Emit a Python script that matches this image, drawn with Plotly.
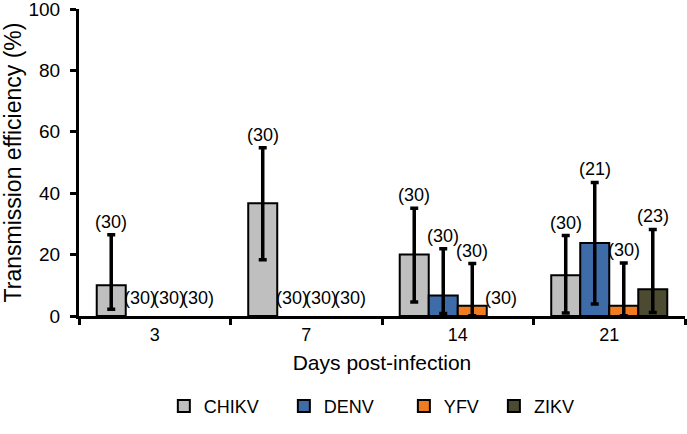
import plotly.graph_objects as go

days = ["3", "7", "14", "21"]
viruses = ["CHIKV", "DENV", "YFV", "ZIKV"]
colors = ["#BFBFBF", "#3D6CA8", "#F07C1F", "#4D4A32"]
legend_pad = [4, 5, 2, 0]

chikv = [10.0, 36.7, 20.0, 13.3]
chikv_hi = [26.5, 54.8, 35.1, 26.2]
chikv_lo = [2.2, 18.3, 4.6, 1.0]
chikv_n = [30, 30, 30, 30]

denv = [0.0, 0.0, 6.7, 23.8]
denv_hi = [0.0, 0.0, 21.9, 43.5]
denv_lo = [0.0, 0.0, 0.8, 3.9]
denv_n = [30, 30, 30, 21]

yfv = [0.0, 0.0, 3.3, 3.3]
yfv_hi = [0.0, 0.0, 17.1, 17.3]
yfv_lo = [0.0, 0.0, 0.1, 0.1]
yfv_n = [30, 30, 30, 30]

zikv = [0.0, 0.0, 0.0, 8.7]
zikv_hi = [0.0, 0.0, 0.0, 28.2]
zikv_lo = [0.0, 0.0, 0.0, 1.1]
zikv_n = [30, 30, 30, 23]

series = [
    (chikv, chikv_hi, chikv_lo, chikv_n),
    (denv, denv_hi, denv_lo, denv_n),
    (yfv, yfv_hi, yfv_lo, yfv_n),
    (zikv, zikv_hi, zikv_lo, zikv_n),
]

FONT = "Liberation Sans, Arial, sans-serif"
NBSP = "\u00a0"
bargap = 0.234
fig = go.Figure()
annotations = []
slot = (1 - bargap) / len(viruses)
for i, (name, color, pad, (vals, hi, lo, ns)) in enumerate(zip(viruses, colors, legend_pad, series)):
    y = [v if v > 0 else None for v in vals]
    fig.add_trace(go.Bar(
        x=days, y=y, name=name + NBSP * pad,
        marker=dict(color=color, line=dict(color="black", width=2)),
        error_y=dict(type="data", symmetric=False,
                     array=[(h - v) if v > 0 else None for h, v in zip(hi, vals)],
                     arrayminus=[(v - l) if v > 0 else None for v, l in zip(vals, lo)],
                     color="black", thickness=3.5, width=4,
                     visible=True),
    ))
    offset = -(1 - bargap) / 2 + slot * (i + 0.5)
    for j, (h, n) in enumerate(zip(hi, ns)):
        annotations.append(dict(
            x=j + offset, y=h, xref="x", yref="y",
            text=f"({n})", showarrow=False,
            yanchor="middle", yshift=13 if h > 0 else 18,
            font=dict(family=FONT, size=18, color="black"),
        ))

fig.update_layout(
    width=687, height=434,
    margin=dict(l=79, r=2, t=9, b=118),
    paper_bgcolor="white", plot_bgcolor="white",
    barmode="group", bargap=bargap, bargroupgap=0,
    font=dict(family=FONT, size=18, color="black"),
    showlegend=True,
    legend=dict(orientation="h", x=0.14, xanchor="left",
                y=-0.294, yanchor="middle",
                font=dict(family=FONT, size=18, color="black"),
                itemwidth=30, traceorder="normal"),
    annotations=annotations,
    xaxis=dict(
        type="category", showline=True, linecolor="black", linewidth=3,
        ticks="outside", tickson="boundaries", ticklen=6, tickwidth=3,
        tickcolor="black", showgrid=False, zeroline=False,
        tickfont=dict(family=FONT, size=18),
        title=dict(text="Days post-infection", font=dict(family=FONT, size=21), standoff=12),
        automargin=False,
    ),
    yaxis=dict(
        range=[0, 100], dtick=20, showline=True, linecolor="black", linewidth=3,
        ticks="outside", ticklen=6, tickwidth=3, tickcolor="black",
        showgrid=False, zeroline=False,
        tickfont=dict(family=FONT, size=19),
        ticklabelstandoff=6, ticklabeloverflow="allow",
        title=dict(text="Transmission efficiency (%)", font=dict(family=FONT, size=23), standoff=14),
        automargin=False,
    ),
)

fig.write_html("out.html", config={"displayModeBar": False},
               post_script="document.body.style.margin='0px';")
